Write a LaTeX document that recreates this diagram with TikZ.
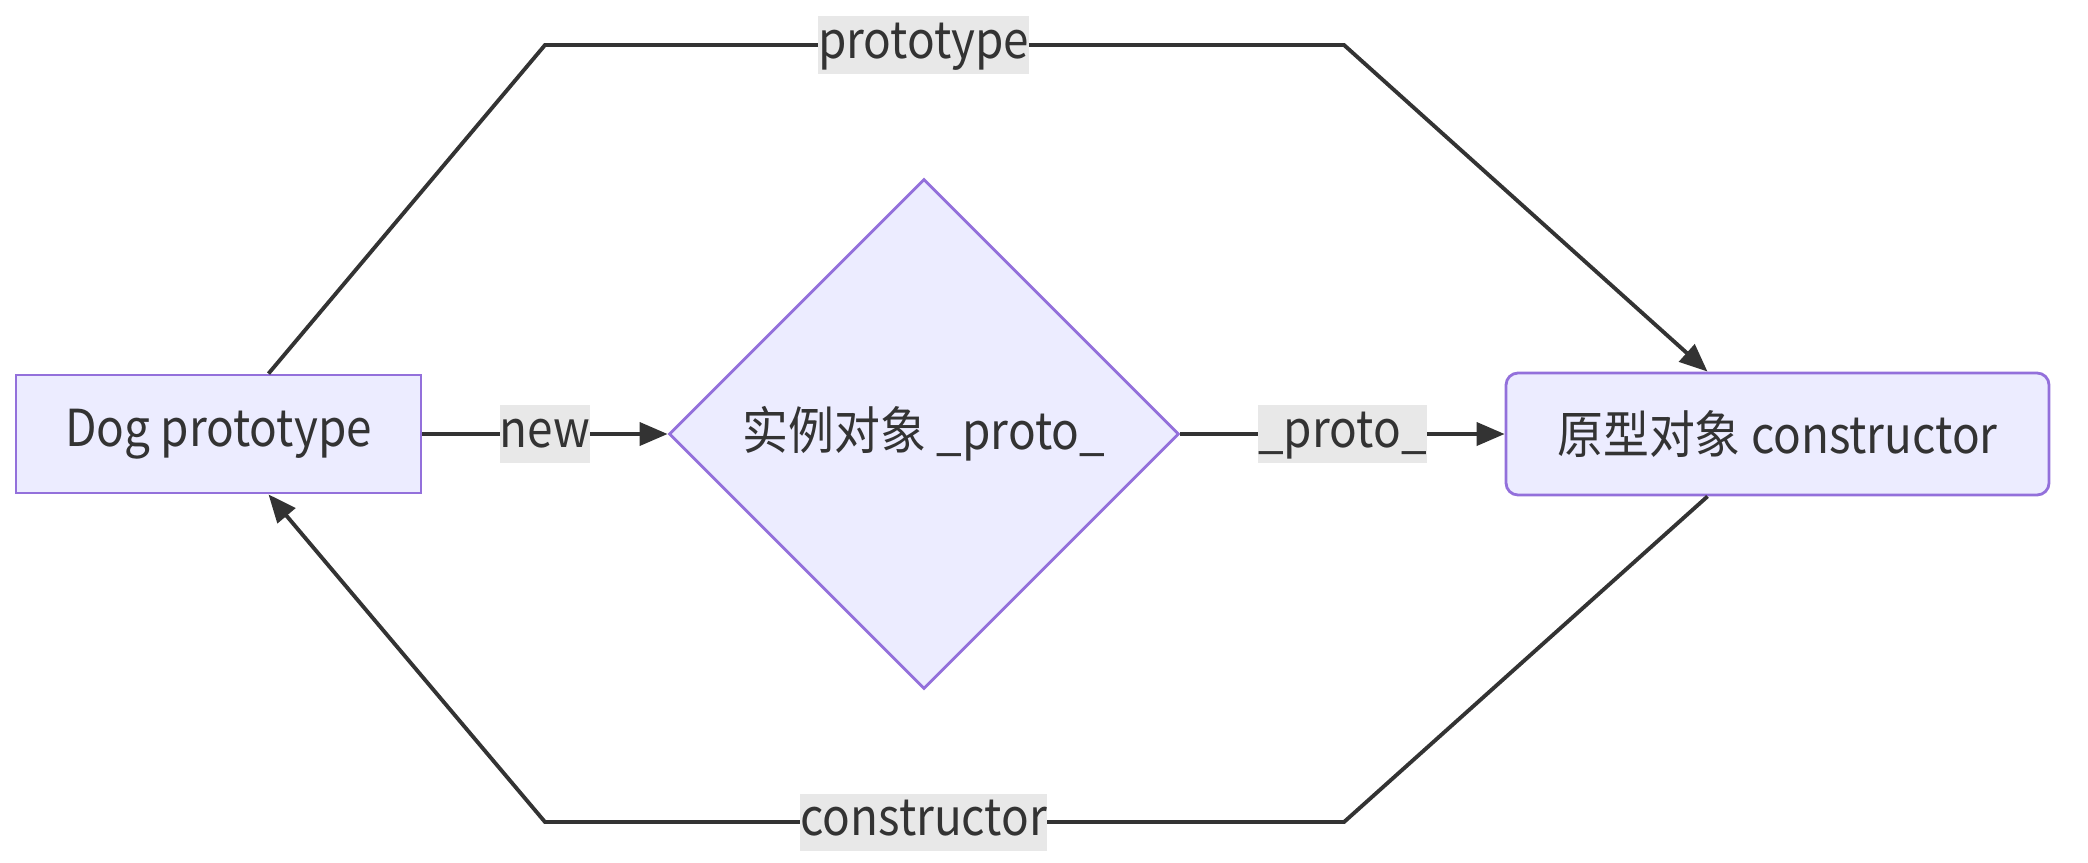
\documentclass[tikz,border=0pt]{standalone}
\usepackage{fontspec}
\setmainfont{Noto Sans CJK SC}[FakeStretch=0.9]
\usetikzlibrary{arrows.meta,positioning,shapes.geometric}
\definecolor{boxfill}{HTML}{ECECFF}
\definecolor{boxline}{HTML}{9370DB}
\definecolor{ink}{HTML}{333333}
\definecolor{labelbg}{HTML}{E8E8E8}
\begin{document}
\begin{tikzpicture}[font=\fontsize{14.5}{17}\selectfont, text=ink, box/.style={draw=boxline, fill=boxfill, line width=0.8pt, align=center}, link/.style={-{Triangle[length=0.28cm,width=0.23cm]}, draw=ink, line width=1.1pt}, tag/.style={fill=labelbg, text=ink, inner xsep=0pt, inner ysep=1pt, text height=0.38cm, text depth=0.12cm}]
\useasboundingbox (0,0) rectangle (20.88,8.62);
\node[box, minimum width=4.05cm, minimum height=1.18cm] (dog) at (2.185,4.28) {Dog prototype};
\node[box, diamond, aspect=1, inner sep=0pt, minimum width=5.1cm, minimum height=5.1cm] (inst) at (9.24,4.28) {实例对象 \_proto\_};
\node[box, rounded corners=0.12cm, minimum width=5.43cm, minimum height=1.22cm] (proto) at (17.775,4.28) {原型对象 constructor};
\draw[link] (dog.east) -- node[tag]{new} (inst.west);
\draw[link] (inst.east) -- node[tag]{\_proto\_} (proto.west);
\draw[link] ([xshift=0.5cm]dog.north) -- (5.45,8.17) -- node[tag, pos=0.474]{prototype} (13.44,8.17) -- ([xshift=-0.7cm]proto.north);
\draw[link] ([xshift=-0.7cm]proto.south) -- (13.44,0.40) -- node[tag, pos=0.526]{constructor} (5.45,0.40) -- ([xshift=0.5cm]dog.south);
\end{tikzpicture}
\end{document}
